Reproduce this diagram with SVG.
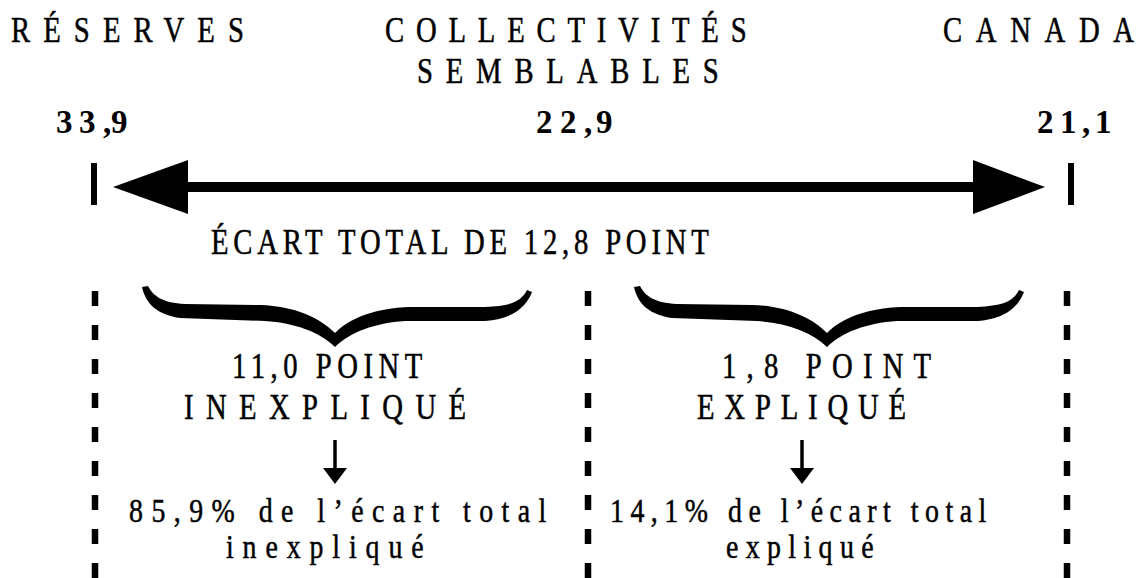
<svg xmlns="http://www.w3.org/2000/svg" xmlns:xlink="http://www.w3.org/1999/xlink" width="1146" height="578" viewBox="0 0 1146 578">
<style>
.t{font-family:"Liberation Serif","Times New Roman",serif;font-size:35px;fill:#000;stroke:#000;stroke-width:0.5}
.s{font-size:34px}
.b{font-family:"Liberation Serif","Times New Roman",serif;font-size:33px;font-weight:bold;fill:#000}
.dash{stroke:#000;stroke-width:6.5;stroke-dasharray:15 19;fill:none}
.tick{stroke:#000;stroke-width:6;fill:none}
.shaft{stroke:#000;stroke-width:3.5;fill:none}
</style>
<defs>
<path id="brace" d="M -193,287 C -190,300 -182,314 -155,318 L -70,321 C -40,323 -15,332 0,347 C 15,332 40,323 70,321 L 150,321 C 180,319 192,305 197,292 L 192,290 C 186,302 175,306 150,307 L 75,307 C 40,308 15,318 0,333 C -15,318 -40,306 -75,305 L -150,304 C -172,303 -182,296 -187,286 Z" fill="#000"/>
</defs>
<rect width="1146" height="578" fill="#fff"/>
<g id="guides">
<line class="dash" x1="95" y1="291" x2="95" y2="578"/>
<line class="dash" x1="588" y1="291" x2="588" y2="578"/>
<line class="dash" x1="1067" y1="291" x2="1067" y2="578"/>
</g>
<g id="connectors">
<line class="tick" x1="94" y1="163" x2="94" y2="205"/>
<line class="tick" x1="1071" y1="163" x2="1071" y2="205"/>
<rect x="185" y="182" width="791" height="10" fill="#000"/>
<polygon points="113,187 188,160 188,214" fill="#000"/>
<polygon points="1045,187 973,160 973,214" fill="#000"/>
<line class="shaft" x1="335" y1="440" x2="335" y2="470"/>
<polygon points="323,468 347,468 335,484" fill="#000"/>
<line class="shaft" x1="802" y1="440" x2="802" y2="470"/>
<polygon points="790,468 814,468 802,484" fill="#000"/>
</g>
<g id="braces">
<use xlink:href="#brace" href="#brace" transform="translate(335,0)"/>
<use xlink:href="#brace" href="#brace" transform="translate(827,0)"/>
</g>
<g id="reserves">
<text class="t" transform="translate(11,42) scale(0.82 1)" textLength="284" lengthAdjust="spacing">RÉSERVES</text>
<text class="b" x="56 79 103 111" y="133">33,9</text>
</g>
<g id="collectivites">
<text class="t" transform="translate(385,42) scale(0.82 1)" textLength="441" lengthAdjust="spacing">COLLECTIVITÉS</text>
<text class="t" transform="translate(417,83) scale(0.82 1)" textLength="368" lengthAdjust="spacing">SEMBLABLES</text>
<text class="b" x="536 560 584 596" y="133">22,9</text>
</g>
<g id="canada">
<text class="t" transform="translate(943,42) scale(0.82 1)" textLength="233" lengthAdjust="spacing">CANADA</text>
<text class="b" x="1037 1060 1082 1095" y="133">21,1</text>
</g>
<g id="ecart-total">
<text class="t" transform="translate(211,254) scale(0.82 1)" textLength="607" lengthAdjust="spacing">ÉCART TOTAL DE 12,8 POINT</text>
</g>
<g id="inexplique">
<text class="t" transform="translate(232,378) scale(0.82 1)" textLength="232" lengthAdjust="spacing">11,0 POINT</text>
<text class="t" transform="translate(184,419) scale(0.82 1)" textLength="344" lengthAdjust="spacing">INEXPLIQUÉ</text>
<text class="t s" transform="translate(129,522) scale(0.82 1)" textLength="509" lengthAdjust="spacing">85,9% de l’écart total</text>
<text class="t s" transform="translate(226,558) scale(0.82 1)" textLength="241" lengthAdjust="spacing">inexpliqué</text>
</g>
<g id="explique">
<text class="t" transform="translate(722,378) scale(0.82 1)" textLength="255" lengthAdjust="spacing">1,8 POINT</text>
<text class="t" transform="translate(697,419) scale(0.82 1)" textLength="255" lengthAdjust="spacing">EXPLIQUÉ</text>
<text class="t s" transform="translate(610,522) scale(0.82 1)" textLength="459" lengthAdjust="spacing">14,1% de l’écart total</text>
<text class="t s" transform="translate(726,558) scale(0.82 1)" textLength="180" lengthAdjust="spacing">expliqué</text>
</g>
</svg>
